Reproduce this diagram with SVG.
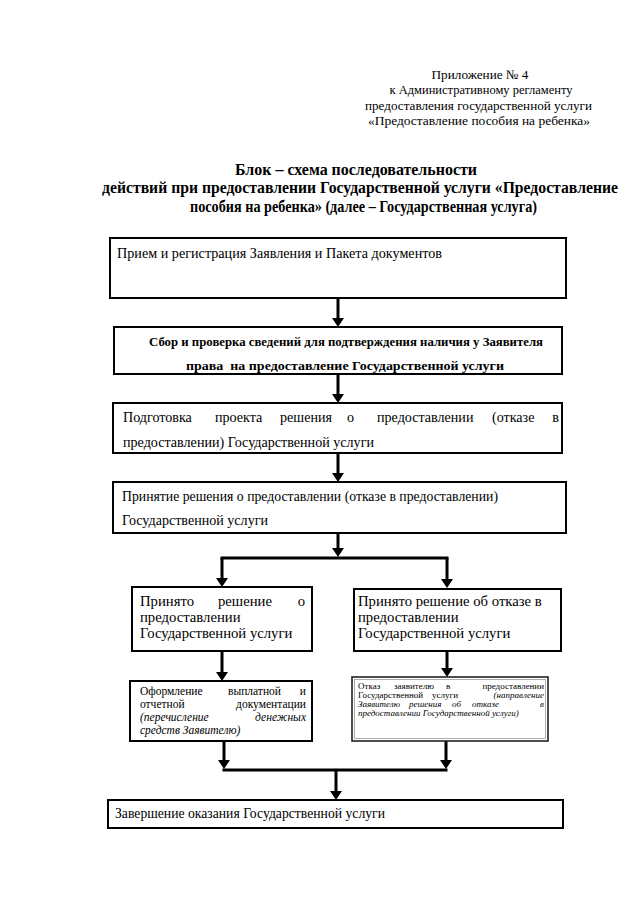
<svg xmlns="http://www.w3.org/2000/svg" width="640" height="905" viewBox="0 0 640 905">
<style>
text{font-family:"Liberation Serif","Times New Roman",serif;fill:#000}
.hdr{font-size:13px;text-anchor:middle}
.ttl{font-size:15.7px;font-weight:bold;text-anchor:middle}
.box{fill:#fff;stroke:#000;stroke-width:2}
.t13{font-size:14.1px}
.b12{font-size:12.8px;font-weight:bold;text-anchor:middle}
.t14{font-size:14.7px}
.t11{font-size:11.5px}
.t9{font-size:9px}
.it{font-style:italic}
.end{text-anchor:end}
.conn line{stroke:#000;stroke-width:3;fill:none}
</style>
<defs>
<marker id="ah" viewBox="0 0 9 12" refX="2" refY="6" markerWidth="9" markerHeight="12" markerUnits="userSpaceOnUse" orient="auto">
<path d="M0,0 L9,6 L0,12 z" fill="#000"/>
</marker>
</defs>
<rect width="640" height="905" fill="#fff"/>

<g id="header">
<text class="hdr" x="480" y="79" textLength="97" lengthAdjust="spacingAndGlyphs">Приложение № 4</text>
<text class="hdr" x="481" y="94" textLength="183" lengthAdjust="spacingAndGlyphs">к Административному регламенту</text>
<text class="hdr" x="478.5" y="109.5" textLength="227" lengthAdjust="spacingAndGlyphs">предоставления государственной услуги</text>
<text class="hdr" x="479" y="125" textLength="222" lengthAdjust="spacingAndGlyphs">«Предоставление пособия на ребенка»</text>
</g>

<g id="title">
<text class="ttl" x="356" y="175" textLength="242" lengthAdjust="spacingAndGlyphs">Блок – схема последовательности</text>
<text class="ttl" x="360" y="193" textLength="516" lengthAdjust="spacingAndGlyphs">действий при предоставлении Государственной услуги «Предоставление</text>
<text class="ttl" x="363.5" y="212" textLength="347" lengthAdjust="spacingAndGlyphs">пособия на ребенка» (далее – Государственная услуга)</text>
</g>

<g class="conn" id="connectors">
<line x1="338" y1="298" x2="338" y2="320" marker-end="url(#ah)"/>
<line x1="338" y1="374" x2="338" y2="396" marker-end="url(#ah)"/>
<line x1="338" y1="453" x2="338" y2="475" marker-end="url(#ah)"/>
<line x1="338" y1="533" x2="338" y2="550" marker-end="url(#ah)"/>
<line x1="220.5" y1="558" x2="448.5" y2="558"/>
<line x1="222" y1="558" x2="222" y2="580" marker-end="url(#ah)"/>
<line x1="447" y1="558" x2="447" y2="581" marker-end="url(#ah)"/>
<line x1="222" y1="651" x2="222" y2="674" marker-end="url(#ah)"/>
<line x1="447" y1="651" x2="447" y2="670" marker-end="url(#ah)"/>
<line x1="224" y1="741" x2="224" y2="762" marker-end="url(#ah)"/>
<line x1="446" y1="741" x2="446" y2="762" marker-end="url(#ah)"/>
<line x1="222.5" y1="770" x2="447.5" y2="770"/>
<line x1="336" y1="770" x2="336" y2="793" marker-end="url(#ah)"/>
</g>

<g id="n1">
<rect class="box" x="110" y="238" width="456" height="60"/>
<text class="t13" x="117" y="257.5" textLength="325" lengthAdjust="spacingAndGlyphs">Прием и регистрация Заявления и Пакета документов</text>
</g>

<g id="n2">
<rect class="box" x="114" y="327" width="448" height="47"/>
<text class="b12" x="346" y="345.5" textLength="394" lengthAdjust="spacingAndGlyphs">Сбор и проверка сведений для подтверждения наличия у Заявителя</text>
<text class="b12" x="345" y="369.5" xml:space="preserve" textLength="318" lengthAdjust="spacingAndGlyphs">права  на предоставление Государственной услуги</text>
</g>

<g id="n3">
<rect class="box" x="113" y="403" width="449" height="50"/>
<text class="t13" y="421.5"><tspan x="123">Подготовка</tspan><tspan x="215">проекта</tspan><tspan x="280">решения</tspan><tspan x="347">о</tspan><tspan x="377">предоставлении</tspan><tspan x="492">(отказе</tspan></text>
<text class="t13 end" x="559" y="421.5">в</text>
<text class="t13" x="123" y="447" textLength="251" lengthAdjust="spacingAndGlyphs">предоставлении) Государственной услуги</text>
</g>

<g id="n4">
<rect class="box" x="113" y="482" width="453" height="51"/>
<text class="t13" x="122" y="500.5" textLength="376" lengthAdjust="spacingAndGlyphs">Принятие решения о предоставлении (отказе в предоставлении)</text>
<text class="t13" x="122" y="524.5" textLength="146" lengthAdjust="spacingAndGlyphs">Государственной услуги</text>
</g>

<g id="n5">
<rect class="box" x="132" y="587" width="180" height="64"/>
<text class="t14" y="606"><tspan x="140">Принято</tspan><tspan x="218">решение</tspan></text>
<text class="t14 end" x="305" y="606">о</text>
<text class="t14" x="140" y="622">предоставлении</text>
<text class="t14" x="140" y="638">Государственной услуги</text>
</g>

<g id="n6">
<rect class="box" x="354" y="589" width="207" height="62"/>
<text class="t14" x="358" y="606">Принято решение об отказе в</text>
<text class="t14" x="358" y="622">предоставлении</text>
<text class="t14" x="358" y="638">Государственной услуги</text>
</g>

<g id="n7">
<rect class="box" x="130" y="681" width="182" height="60"/>
<text class="t11" y="694.5"><tspan x="140">Оформление</tspan><tspan x="228">выплатной</tspan></text>
<text class="t11 end" x="306" y="694.5">и</text>
<text class="t11" x="140" y="707.5">отчетной</text>
<text class="t11 end" x="306" y="707.5">документации</text>
<text class="t11 it" x="140" y="720.5">(перечисление</text>
<text class="t11 it end" x="306" y="720.5">денежных</text>
<text class="t11 it" x="140" y="733.5">средств Заявителю)</text>
</g>

<g id="n8">
<rect x="352" y="677" width="196" height="64" fill="#fff" stroke="#222" stroke-width="1.6"/>
<rect x="354.5" y="679.5" width="191" height="59" fill="none" stroke="#999" stroke-width="0.8"/>
<text class="t9" y="689"><tspan x="358">Отказ</tspan><tspan x="394">заявителю</tspan><tspan x="446">в</tspan></text>
<text class="t9 end" x="544" y="689">предоставлении</text>
<text class="t9" y="698"><tspan x="358">Государственной</tspan><tspan x="432">услуги</tspan></text>
<text class="t9 it end" x="544" y="698">(направление</text>
<text class="t9 it" y="707"><tspan x="358">Заявителю</tspan><tspan x="409">решения</tspan><tspan x="452">об</tspan><tspan x="472">отказе</tspan></text>
<text class="t9 it end" x="544" y="707">в</text>
<text class="t9 it" x="358" y="716">предоставлении Государственной услуги)</text>
</g>

<g id="n9">
<rect class="box" x="108" y="800" width="455" height="28"/>
<text class="t13" x="115" y="817.5" textLength="270" lengthAdjust="spacingAndGlyphs">Завершение оказания Государственной услуги</text>
</g>
</svg>
